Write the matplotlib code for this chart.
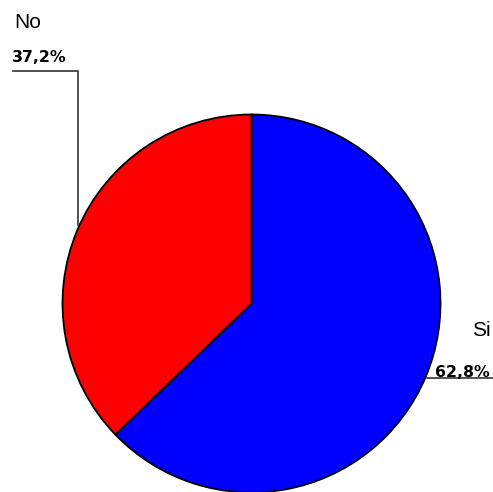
import matplotlib
matplotlib.use('Agg')
import matplotlib.pyplot as plt

plt.rcParams['font.family'] = ['Liberation Sans', 'DejaVu Sans']

labels = ['Si', 'No']
values = [62.8, 37.2]
colors = ['#0000FF', '#FF0000']
pct_text = ['62,8%', '37,2%']

W, H = 493, 492
fig = plt.figure(figsize=(W / 100, H / 100), dpi=100)
ax = fig.add_axes([0, 0, 1, 1])

# pixel coords, origin bottom-left
cx, cy, r = 251.5, H - 303.5, 189
ax.pie(values, colors=colors, startangle=90, counterclock=False,
       center=(cx, cy), radius=r,
       wedgeprops=dict(edgecolor='black', linewidth=1.3))
ax.set_xlim(0, W)
ax.set_ylim(0, H)
ax.set_aspect('auto')
ax.axis('off')

# labels (positions in pixels from top-left)
def put(x, y, s, **kw):
    fig.text(x / W, 1 - y / H, s, va='baseline', **kw)

put(14, 28, labels[1], fontsize=15)
put(12, 62, pct_text[1], fontsize=11.3, fontweight='bold', family='DejaVu Sans')
put(472, 336, labels[0], fontsize=15)
put(435, 377, pct_text[0], fontsize=11.3, fontweight='bold', family='DejaVu Sans')

# leader lines
ax.plot([13, 78, 78], [H - 71, H - 71, H - 225], color='#333333', lw=1.2)
ax.plot([427, 493], [H - 378, H - 378], color='#333333', lw=1.2)

fig.savefig('out.png', dpi=100)
